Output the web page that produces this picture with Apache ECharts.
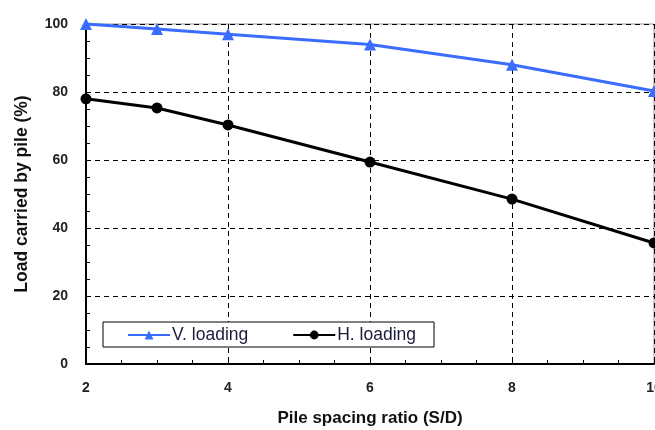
<!DOCTYPE html>
<html><head><meta charset="utf-8">
<script src="https://cdn.jsdelivr.net/npm/echarts@6/dist/echarts.min.js"></script>
<style>html,body{margin:0;padding:0;background:#fff}#c{width:655px;height:430px}</style>
</head><body><div id="c"></div>
<script>
const spacing = [2, 3, 4, 6, 8, 10];
const vLoading = [100, 98.5, 97, 94, 88, 80.3];
const hLoading = [78, 75.3, 70.3, 59.4, 48.5, 35.6];
const xName = 'Pile spacing ratio (S/D)';
const yName = 'Load carried by pile (%)';
const seriesNames = ['V. loading', 'H. loading'];

const font = 'Liberation Sans, Arial, sans-serif';
const chart = echarts.init(document.getElementById('c'), null, {renderer: 'canvas'});
chart.setOption({
  animation: false,
  backgroundColor: '#fff',
  grid: {left: 86, right: 1, top: 24, bottom: 66, containLabel: false, outerBoundsMode: 'none',
         show: true, borderColor: '#999', borderWidth: 1, backgroundColor: 'transparent'},
  legend: {
    left: 103, top: 322,
    orient: 'horizontal',
    backgroundColor: '#fff', borderColor: '#000', borderWidth: 1,
    padding: [4, 18, 3, 24], itemGap: 44, itemWidth: 42, itemHeight: 11,
    textStyle: {color: '#1a1a3a', fontFamily: font, fontSize: 17.5, padding: [0,0,0,-3]},
    data: seriesNames
  },
  xAxis: {
    type: 'value', min: 2, max: 10, interval: 2,
    name: xName, nameLocation: 'middle', nameGap: 46,
    nameTextStyle: {color: '#111', fontFamily: font, fontSize: 17, fontWeight: 'bold'},
    axisLine: {lineStyle: {color: '#000', width: 2}},
    axisTick: {inside: true, length: 5, lineStyle: {color: '#000', width: 1}},
    minorTick: {show: true, splitNumber: 4, length: 4, lineStyle: {color: '#000'}},
    axisLabel: {color: '#222', fontFamily: font, fontSize: 14, fontWeight: 'bold', margin: 17},
    splitLine: {show: true, lineStyle: {color: '#000', type: [5, 4], width: 1}}
  },
  yAxis: {
    type: 'value', min: 0, max: 100, interval: 20,
    name: yName, nameLocation: 'middle', nameGap: 55,
    nameTextStyle: {color: '#111', fontFamily: font, fontSize: 17.5, fontWeight: 'bold'},
    axisLine: {show: true, lineStyle: {color: '#000', width: 2}},
    axisTick: {show: true, inside: true, length: 5, lineStyle: {color: '#000', width: 1}},
    minorTick: {show: true, splitNumber: 4, length: 4, lineStyle: {color: '#000'}},
    axisLabel: {color: '#222', fontFamily: font, fontSize: 14, fontWeight: 'bold', margin: 18},
    splitLine: {show: true, lineStyle: {color: '#000', type: [5, 4], width: 1}}
  },
  series: [
    {
      name: seriesNames[0], type: 'line', clip: false,
      data: spacing.map((x, i) => [x, vLoading[i]]),
      symbol: 'triangle', symbolSize: 12,
      lineStyle: {color: '#3a6cff', width: 3},
      itemStyle: {color: '#3a6cff'}
    },
    {
      name: seriesNames[1], type: 'line', clip: false,
      data: spacing.map((x, i) => [x, hLoading[i]]),
      symbol: 'circle', symbolSize: 11,
      lineStyle: {color: '#000', width: 3},
      itemStyle: {color: '#000'}
    }
  ]
});
</script></body></html>
